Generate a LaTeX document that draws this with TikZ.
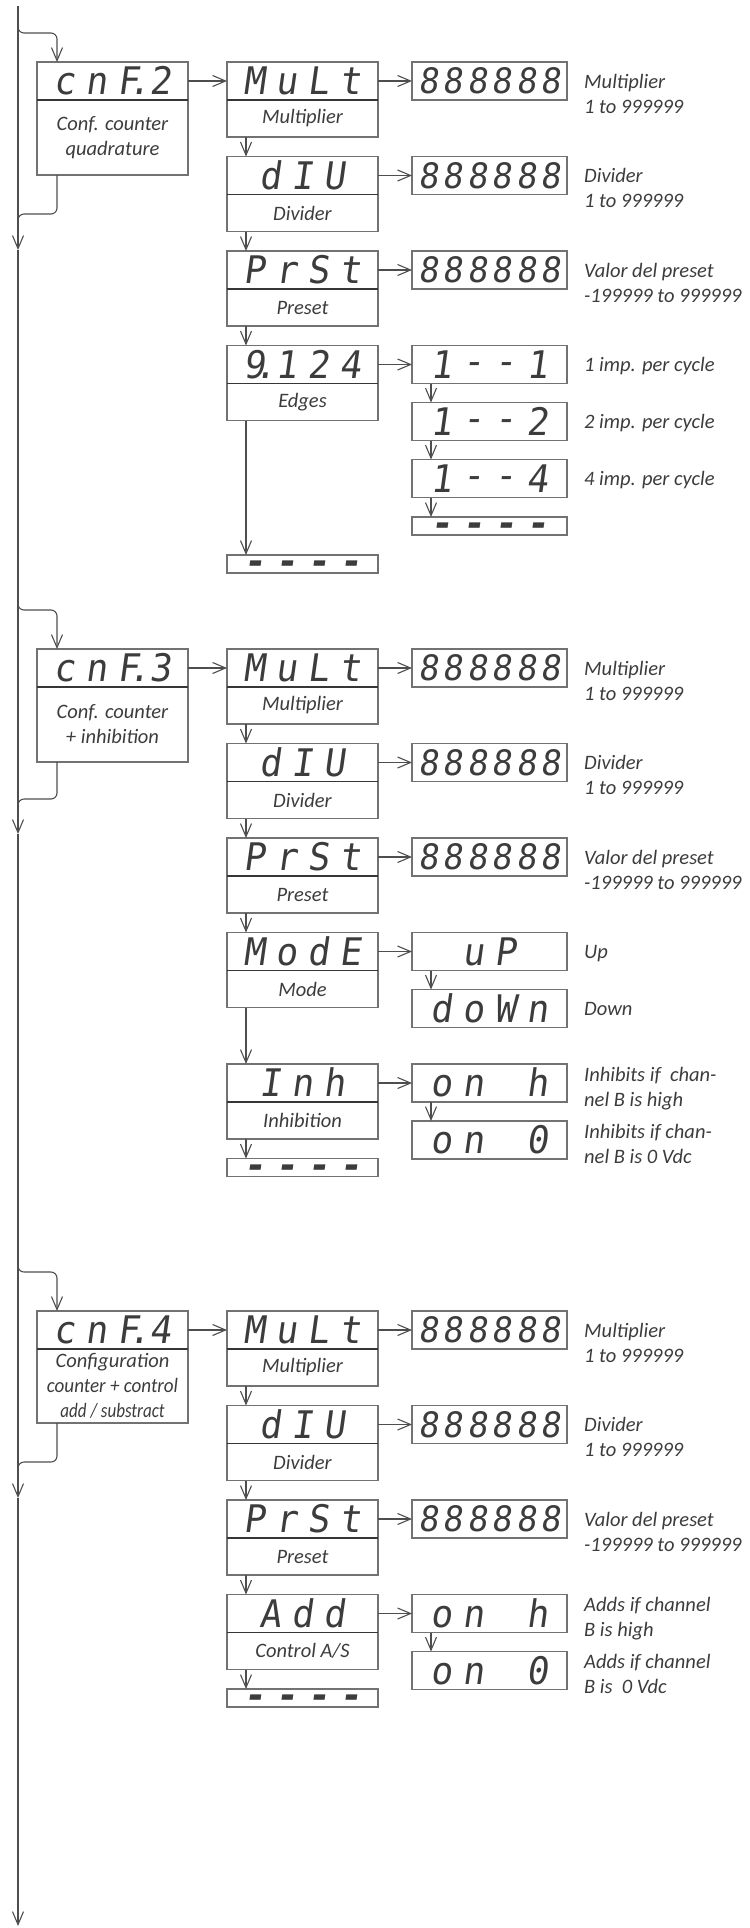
\documentclass[tikz,border=0pt]{standalone}
\usepackage{fontspec}
\setmainfont{Carlito}
\newfontfamily\segfont{DejaVu Sans Mono}[FakeSlant=0.14,FakeStretch=0.95]
\usetikzlibrary{positioning,arrows.meta}
\definecolor{ink}{HTML}{3C3C3C}
\definecolor{frame}{HTML}{727272}
\definecolor{wire}{HTML}{4E4E4E}
\newcommand\sg[1]{\makebox[32bp]{#1}}
\newcommand\sgs[1]{\makebox[24.5bp]{#1}}
\newcommand\segdash{\raisebox{3.5bp}{-}}
\newcommand\segdot{\rlap{\kern-11bp.}}
\newcommand\eights{\sgs{8}\sgs{8}\sgs{8}\sgs{8}\sgs{8}\sgs{8}}
\newcommand\dashes{\raisebox{-10.8bp}{\bfseries\sg{-}\sg{-}\sg{-}\sg{-}}}
\newcommand\labfont{\itshape\fontsize{20.5bp}{25bp}\selectfont}
\tikzset{
  disp/.style={draw=frame, line width=1.1bp, minimum width=151bp, minimum height=38bp,
    inner sep=0pt, outer sep=0pt, text=ink, text height=27.7bp, text depth=0pt,
    font=\segfont\fontsize{38bp}{38bp}\selectfont},
  wide/.style={disp, minimum width=155bp},
  eight/.style={wide, text height=25.5bp, font=\segfont\fontsize{35bp}{35bp}\selectfont},
  lab/.style={draw=frame, line width=1.1bp, minimum width=151bp, minimum height=37bp,
    inner sep=0pt, outer sep=0pt, text=ink, align=center, font=\labfont},
  dashbox/.style={disp, minimum height=18bp, text height=0pt},
  note/.style={anchor=base west, inner sep=0pt, align=left, text=ink, font=\labfont},
  link/.style={draw=wire, line width=1.1bp},
  split/.style={draw=ink!90!black, line width=1.3bp},
  arr/.style={link, -{Straight Barb[length=13bp, width=11bp]}}
}
\begin{document}
\begin{tikzpicture}[x=1bp, y=-1bp]
\useasboundingbox (0,0) rectangle (750,1928);

\node[disp] (cnf2) at (112.5,81) {\sg{c}\sg{n}\sg{F\segdot}\sg{2}};
\node[lab, minimum height=75bp, below=0pt of cnf2] (cnf2l) {Conf. counter\\quadrature};
\node[disp, right=39bp of cnf2] (mult2) {\sg{M}\sg{u}\sg{L}\sg{t}};
\node[lab, below=0pt of mult2] (mult2l) {Multiplier};
\node[disp, below=19.5bp of mult2l] (div2) {\sg{d}\sg{I}\sg{U}};
\node[lab, below=0pt of div2] (div2l) {Divider};
\node[disp, below=19.5bp of div2l] (prst2) {\sg{P}\sg{r}\sg{S}\sg{t}};
\node[lab, below=0pt of prst2] (prst2l) {Preset};
\node[disp, below=19.5bp of prst2l] (edge2) {\sg{9\segdot}\sg{1}\sg{2}\sg{4}};
\node[lab, below=0pt of edge2] (edge2l) {Edges};
\node[dashbox, below=134.5bp of edge2l] (end2) {\dashes};
\node[eight, right=34bp of mult2] (val2a) {\eights};
\node[eight, right=34bp of div2] (val2b) {\eights};
\node[eight, right=34bp of prst2] (val2c) {\eights};
\node[wide, right=34bp of edge2] (imp2a) {\sg{1}\sg{\segdash}\sg{\segdash}\sg{1}};
\node[wide, below=19bp of imp2a] (imp2b) {\sg{1}\sg{\segdash}\sg{\segdash}\sg{2}};
\node[wide, below=19bp of imp2b] (imp2c) {\sg{1}\sg{\segdash}\sg{\segdash}\sg{4}};
\node[dashbox, minimum width=155bp, below=19.5bp of imp2c] (imp2d) {\dashes};
\node[note] (n2a) at ([xshift=17bp,yshift=-32bp]val2a.east) {Multiplier\\1 to 999999};
\node[note] (n2b) at ([xshift=17bp,yshift=-32bp]val2b.east) {Divider\\1 to 999999};
\node[note] (n2c) at ([xshift=17bp,yshift=-32bp]val2c.east) {Valor del preset\\-199999 to 999999};
\node[note] (n2d) at ([xshift=17bp,yshift=-7bp]imp2a.east) {1 imp. per cycle};
\node[note] (n2e) at ([xshift=17bp,yshift=-7bp]imp2b.east) {2 imp. per cycle};
\node[note] (n2f) at ([xshift=17bp,yshift=-7bp]imp2c.east) {4 imp. per cycle};

\node[disp] (cnf3) at (112.5,668) {\sg{c}\sg{n}\sg{F\segdot}\sg{3}};
\node[lab, minimum height=75bp, below=0pt of cnf3] (cnf3l) {Conf. counter\\+ inhibition};
\node[disp, right=39bp of cnf3] (mult3) {\sg{M}\sg{u}\sg{L}\sg{t}};
\node[lab, below=0pt of mult3] (mult3l) {Multiplier};
\node[disp, below=19.5bp of mult3l] (div3) {\sg{d}\sg{I}\sg{U}};
\node[lab, below=0pt of div3] (div3l) {Divider};
\node[disp, below=19.5bp of div3l] (prst3) {\sg{P}\sg{r}\sg{S}\sg{t}};
\node[lab, below=0pt of prst3] (prst3l) {Preset};
\node[disp, below=19.5bp of prst3l] (mode3) {\sg{M}\sg{o}\sg{d}\sg{E}};
\node[lab, below=0pt of mode3] (mode3l) {Mode};
\node[disp, below=56.5bp of mode3l] (inh3) {\sg{I}\sg{n}\sg{h}};
\node[lab, below=0pt of inh3] (inh3l) {Inhibition};
\node[dashbox, below=19.5bp of inh3l] (end3) {\dashes};
\node[eight, right=34bp of mult3] (val3a) {\eights};
\node[eight, right=34bp of div3] (val3b) {\eights};
\node[eight, right=34bp of prst3] (val3c) {\eights};
\node[wide, right=34bp of mode3] (up3) {\sg{u}\sg{P}};
\node[wide, below=19bp of up3] (down3) {\sg{d}\sg{o}\sg{W}\sg{n}};
\node[wide, right=34bp of inh3] (on3a) {\sg{o}\sg{n}\sg{}\sg{h}};
\node[wide, below=19bp of on3a] (on3b) {\sg{o}\sg{n}\sg{}\sg{0}};
\node[note] (n3a) at ([xshift=17bp,yshift=-32bp]val3a.east) {Multiplier\\1 to 999999};
\node[note] (n3b) at ([xshift=17bp,yshift=-32bp]val3b.east) {Divider\\1 to 999999};
\node[note] (n3c) at ([xshift=17bp,yshift=-32bp]val3c.east) {Valor del preset\\-199999 to 999999};
\node[note] (n3d) at ([xshift=17bp,yshift=-7bp]up3.east) {Up};
\node[note] (n3e) at ([xshift=17bp,yshift=-7bp]down3.east) {Down};
\node[note] (n3f) at ([xshift=17bp,yshift=-23bp]on3a.east) {Inhibits if\ \ chan-\\nel B is high};
\node[note] (n3g) at ([xshift=17bp,yshift=-23bp]on3b.east) {Inhibits if chan-\\nel B is 0 Vdc};

\node[disp] (cnf4) at (112.5,1330) {\sg{c}\sg{n}\sg{F\segdot}\sg{4}};
\node[lab, minimum height=74bp, below=0pt of cnf4] (cnf4l)
  {Configuration\\\scalebox{0.93}[1]{counter + control}\\\scalebox{0.83}[1]{add / substract}};
\node[disp, right=39bp of cnf4] (mult4) {\sg{M}\sg{u}\sg{L}\sg{t}};
\node[lab, below=0pt of mult4] (mult4l) {Multiplier};
\node[disp, below=19.5bp of mult4l] (div4) {\sg{d}\sg{I}\sg{U}};
\node[lab, below=0pt of div4] (div4l) {Divider};
\node[disp, below=19.5bp of div4l] (prst4) {\sg{P}\sg{r}\sg{S}\sg{t}};
\node[lab, below=0pt of prst4] (prst4l) {Preset};
\node[disp, below=19.5bp of prst4l] (add4) {\sg{A}\sg{d}\sg{d}};
\node[lab, below=0pt of add4] (add4l) {Control A/S};
\node[dashbox, below=19.5bp of add4l] (end4) {\dashes};
\node[eight, right=34bp of mult4] (val4a) {\eights};
\node[eight, right=34bp of div4] (val4b) {\eights};
\node[eight, right=34bp of prst4] (val4c) {\eights};
\node[wide, right=34bp of add4] (on4a) {\sg{o}\sg{n}\sg{}\sg{h}};
\node[wide, below=19bp of on4a] (on4b) {\sg{o}\sg{n}\sg{}\sg{0}};
\node[note] (n4a) at ([xshift=17bp,yshift=-32bp]val4a.east) {Multiplier\\1 to 999999};
\node[note] (n4b) at ([xshift=17bp,yshift=-32bp]val4b.east) {Divider\\1 to 999999};
\node[note] (n4c) at ([xshift=17bp,yshift=-32bp]val4c.east) {Valor del preset\\-199999 to 999999};
\node[note] (n4d) at ([xshift=17bp,yshift=-23bp]on4a.east) {Adds if channel\\B is high};
\node[note] (n4e) at ([xshift=17bp,yshift=-23bp]on4b.east) {Adds if channel\\B is\ \ 0 Vdc};

\foreach \b in {cnf2, mult2, div2, prst2, edge2, cnf3, mult3, div3, prst3, mode3, inh3,
    cnf4, mult4, div4, prst4, add4}
  \draw[split] (\b.south west) -- (\b.south east);

\coordinate (top) at (18,6);
\coordinate (in2) at (18,18);   \coordinate (k2) at (57,33);
\coordinate (j2) at (18,214);   \coordinate (out2) at (18,228);  \coordinate (tip2) at (18,250);
\coordinate (in3) at (18,596);  \coordinate (k3) at (57,610);
\coordinate (j3) at (18,799);   \coordinate (out3) at (18,812);  \coordinate (tip3) at (18,834);
\coordinate (in4) at (18,1259); \coordinate (k4) at (57,1272);
\coordinate (j4) at (18,1462);  \coordinate (out4) at (18,1476); \coordinate (tip4) at (18,1498);
\coordinate (bot) at (18,1926);

\draw[arr] (top) -- (tip2);
\draw[arr] (tip2) -- (tip3);
\draw[arr] (tip3) -- (tip4);
\draw[arr] (tip4) -- (bot);
\foreach \s in {2,3,4} {
  \draw[arr, rounded corners=6bp] (in\s) |- (k\s) -- (k\s |- cnf\s.north);
  \draw[link, rounded corners=6bp] (k\s |- cnf\s l.south) |- (j\s) -- (out\s);
}

\foreach \a/\b in {cnf2/mult2, mult2/val2a, div2/val2b, prst2/val2c, edge2/imp2a,
    cnf3/mult3, mult3/val3a, div3/val3b, prst3/val3c, mode3/up3, inh3/on3a,
    cnf4/mult4, mult4/val4a, div4/val4b, prst4/val4c, add4/on4a}
  \draw[arr] (\a) -- (\b);
\foreach \a/\b in {mult2l/div2, div2l/prst2, prst2l/edge2, edge2l/end2,
    imp2a/imp2b, imp2b/imp2c, imp2c/imp2d,
    mult3l/div3, div3l/prst3, prst3l/mode3, mode3l/inh3, inh3l/end3,
    up3/down3, on3a/on3b,
    mult4l/div4, div4l/prst4, prst4l/add4, add4l/end4, on4a/on4b}
  \draw[arr] ([xshift=19bp]\a.south west) -- ([xshift=19bp]\b.north west);
\end{tikzpicture}
\end{document}
